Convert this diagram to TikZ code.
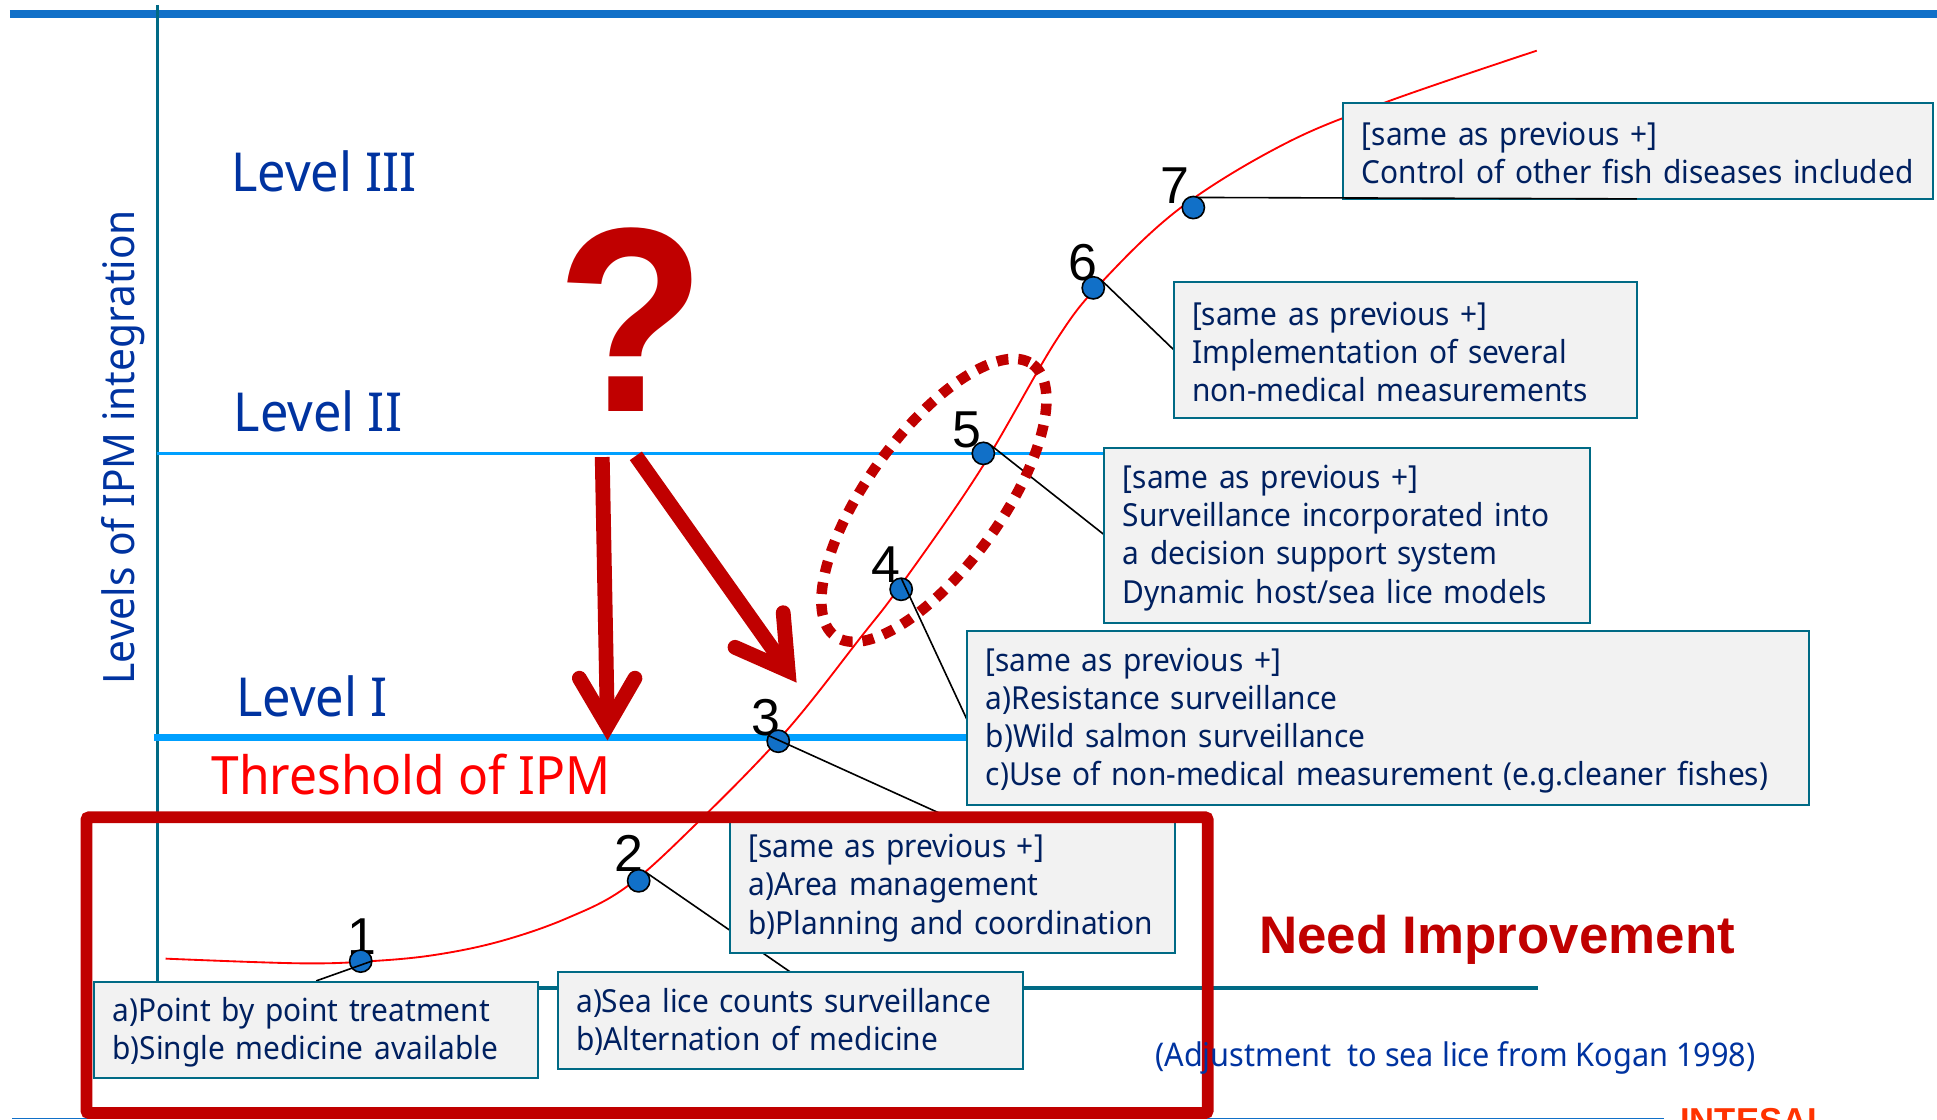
\documentclass[tikz,border=0pt]{standalone}
\usepackage{fontspec}
\setmainfont[FakeStretch=0.94]{Noto Sans}
\newfontfamily\arialf{Liberation Sans}
\newfontfamily\qmarkf[FakeStretch=0.93]{Liberation Sans}
\usetikzlibrary{calc}
\definecolor{teal0}{HTML}{006A85}
\definecolor{navy0}{HTML}{002060}
\definecolor{blue0}{HTML}{0033A0}
\definecolor{red0}{HTML}{C00000}
\definecolor{bar0}{HTML}{1170C8}
\definecolor{sky0}{HTML}{00A0FF}
\definecolor{boxf}{HTML}{F2F2F2}
\newcommand{\firstline}{\rule{0pt}{22.5pt}}
\tikzset{
 infobox/.style={draw=teal0,fill=boxf,line width=1.6pt,outer sep=0pt,inner ysep=0pt,inner xsep=15pt,align=left,text=navy0,
   font=\fontsize{25.7}{31}\selectfont,anchor=north west},
 dotn/.style={circle,draw=black,fill=bar0,line width=1.3pt,minimum size=18pt,inner sep=0pt,outer sep=0pt},
 numl/.style={font=\arialf\fontsize{42}{42}\selectfont,text=black,inner sep=0pt},
 lev/.style={font=\fontsize{43.5}{44}\selectfont,text=blue0,inner sep=0pt,anchor=base west},
 link/.style={draw=black,line width=1.3pt},
 fatarrow/.style={draw=red0,line width=12pt},
}
\begin{document}
\begin{tikzpicture}[x=1pt,y=-1pt]
\useasboundingbox (0,0) rectangle (1568,905.9);
\begin{scope}
\clip (0,0) rectangle (1568,905.9);
% frame lines
\draw[bar0,line width=6.5pt] (8,11) -- (1568,11);
\draw[teal0,line width=2pt] (127.5,4) -- (127.5,795);
\draw[teal0,line width=3pt] (128,800) -- (1245,800);
\draw[bar0,line width=1.3pt] (10,905.3) -- (1347,905.3);
\draw[sky0,line width=2.5pt] (127,367) -- (895,367);
\draw[sky0,line width=5pt] (125,597) -- (783,597);
% curve
\draw[red,line width=1.5pt] plot[smooth,tension=0.6] coordinates {(134,776) (243,779.8) (301,778) (352,773) (404.8,762) (458.7,743.4) (507.3,717.8) (564,666.5) (635.7,592.6) (697,515.6) (729,474) (793.5,380.6) (855.3,275) (893.4,226.7) (956.9,167.3) (1040.8,116) (1123,82.3) (1244,41)};
% numbers
\node[numl] (n1) at (293,758) {1};
\node[numl] (n2) at (509,691) {2};
\node[numl] (n3) at (620,581) {3};
\node[numl] (n4) at (717,457) {4};
\node[numl] (n5) at (783,348) {5};
\node[numl] (n6) at (877,213) {6};
\node[numl] (n7) at (951,150) {7};
% dots
\node[dotn] (d1) at (292,778) {};
\node[dotn] (d2) at (517,713) {};
\node[dotn] (d3) at (630,600) {};
\node[dotn] (d4) at (729.5,477) {};
\node[dotn] (d5) at (796,367) {};
\node[dotn] (d6) at (885,233) {};
\node[dotn] (d7) at (966,168) {};
% free ends of connectors
\coordinate (c1) at (256,794);
\coordinate (c2) at (640,787);
\coordinate (c3) at (760,658);
\coordinate (c4) at (783,583);
\coordinate (c5) at (894,433);
\coordinate (c6) at (950,283);
\coordinate (c7) at (1325,161);
\draw[link] (d1.east) -- (c1);
\draw[link] (d2.50) -- (c2);
\draw[link] (d3.150) -- (c3);
\draw[link] (d4.north) -- (c4);
\draw[link] (d5.45) -- (c5);
\draw[link] (d6.45) -- (c6);
% boxes
\node[infobox,text width=447pt,minimum height=78pt] (b7) at (1087.5,83) {\firstline[same as previous +]\\Control of other fish diseases included};
\node[infobox,text width=345pt,minimum height=110pt] (b6) at (950,228) {\firstline[same as previous +]\\Implementation of several\\non-medical measurements};
\node[infobox,text width=363pt,minimum height=141pt] (b5) at (894,363) {\firstline[same as previous +]\\Surveillance incorporated into\\a decision support system\\Dynamic host/sea lice models};
\node[infobox,text width=651pt,minimum height=141pt] (b4) at (783,511) {\firstline[same as previous +]\\a)Resistance surveillance\\b)Wild salmon surveillance\\c)Use of non-medical measurement (e.g.cleaner fishes)};
\node[infobox,text width=330.5pt,minimum height=109pt] (b3) at (591,662.5) {\firstline[same as previous +]\\a)Area management\\b)Planning and coordination};
\node[infobox,text width=346.5pt,minimum height=78pt] (b2) at (451.5,787) {\firstline a)Sea lice counts surveillance\\b)Alternation of medicine};
\node[infobox,text width=329.5pt,minimum height=78pt] (b1) at (76,795) {\firstline a)Point by point treatment\\b)Single medicine available};
\draw[link] (d7.65) -- (c7);
% labels
\node[lev] (l3) at (187,154.8) {Level III};
\node[lev] (l2) at (189,349) {Level II};
\node[lev] (l1) at (191,580) {Level I};
\node[lev,font=\fontsize{42.8}{44}\selectfont,text=red] (th) at (171,643) {Threshold of IPM};
\node[font=\fontsize{35}{35}\selectfont,text=blue0,inner sep=0pt,rotate=90] (yl) at (100,362) {Levels of IPM integration};
\node[font=\qmarkf\bfseries\fontsize{213}{213}\selectfont,text=red0,inner sep=0pt,anchor=base] (q) at (511,333) {?};
% arrows
\coordinate (a1s) at (487.5,370);
\coordinate (a1t) at (491.7,587.5);
\coordinate (a1l) at (469,549);
\coordinate (a1r) at (514,549);
\draw[fatarrow] (a1s) -- (a1t);
\draw[fatarrow,line cap=round,miter limit=10] (a1l) -- (a1t) -- (a1r);
\coordinate (a2s) at (514.7,369);
\coordinate (a2t) at (638,543);
\coordinate (a2l) at (595,524);
\coordinate (a2r) at (634,496);
\draw[fatarrow] (a2s) -- (a2t);
\draw[fatarrow,line cap=round,miter limit=10] (a2l) -- (a2t) -- (a2r);
% dotted ellipse
\draw[red0,line width=8.5pt,dash pattern=on 9.5pt off 8pt,rotate around={54:(756,405)}] (756,405) ellipse [x radius=136,y radius=54];
% red frame
\draw[red0,line width=9.5pt,rounded corners=2pt] (70,661.6) rectangle (977.6,901);
% right texts
\node[font=\arialf\bfseries\fontsize{42.8}{43}\selectfont,text=red0,inner sep=0pt,anchor=base west] (ni) at (1019,772) {Need Improvement};
\node[font=\fontsize{26.4}{26}\selectfont,text=blue0,inner sep=0pt,anchor=base west] (adj) at (935,863) {(Adjustment\ \ to sea lice from Kogan 1998)};
\node[font=\arialf\bfseries\fontsize{28}{28}\selectfont,text={rgb,255:red,255;green,51;blue,0},inner sep=0pt,anchor=base west] (int) at (1360,917) {INTESAL};
\end{scope}
\end{tikzpicture}
\end{document}
